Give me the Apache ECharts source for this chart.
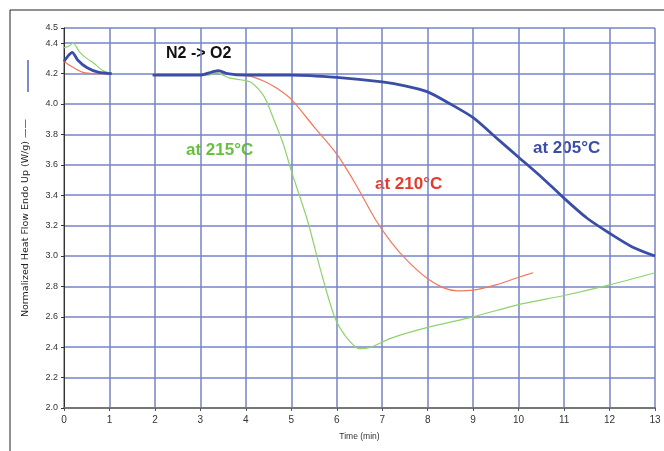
<!DOCTYPE html>
<html>
<head>
<meta charset="utf-8">
<script src="https://cdn.jsdelivr.net/npm/echarts@6/dist/echarts.min.js"></script>
<style>
  html, body { margin: 0; padding: 0; background: #fff; }
  #chart { width: 664px; height: 451px; }
</style>
</head>
<body>
<div id="chart"></div>
<script>
// time (min), heat flow (W/g); '-' = gap in the trace
const curve205 = [
  [0, 4.28], [0.1, 4.32], [0.18, 4.34], [0.3, 4.29], [0.5, 4.24], [0.75, 4.21], [1.05, 4.2],
  [1.5, '-'],
  [1.95, 4.19], [3.0, 4.19], [3.25, 4.21], [3.4, 4.22], [3.6, 4.2], [4.0, 4.19], [5.0, 4.19],
  [6.0, 4.175], [7.0, 4.145], [7.5, 4.12], [8.0, 4.08], [8.5, 4.0], [9.0, 3.91], [9.5, 3.78],
  [10.0, 3.65], [10.5, 3.52], [11.0, 3.38], [11.5, 3.25], [12.0, 3.15], [12.5, 3.06], [13.0, 3.0]
];
const curve210 = [
  [0, 4.28], [0.15, 4.25], [0.4, 4.21], [0.7, 4.2], [1.05, 4.2],
  [1.5, '-'],
  [1.95, 4.19], [3.0, 4.19], [3.25, 4.21], [3.4, 4.22], [3.6, 4.2], [4.0, 4.19],
  [4.4, 4.15], [4.7, 4.1], [5.0, 4.03], [5.5, 3.85], [6.0, 3.67], [6.4, 3.48], [6.85, 3.24],
  [7.2, 3.09], [7.55, 2.97], [8.0, 2.85], [8.35, 2.79], [8.65, 2.77], [9.0, 2.775],
  [9.5, 2.81], [10.0, 2.86], [10.32, 2.89]
];
const curve215 = [
  [0, 4.37], [0.1, 4.38], [0.2, 4.4], [0.35, 4.34], [0.5, 4.3], [0.65, 4.27], [0.85, 4.22], [1.05, 4.2],
  [1.5, '-'],
  [2.85, 4.19], [3.2, 4.19], [3.35, 4.21], [3.5, 4.19], [3.65, 4.17], [4.1, 4.145],
  [4.4, 4.05], [4.6, 3.91], [4.82, 3.74], [5.0, 3.56], [5.35, 3.24], [5.65, 2.9],
  [5.95, 2.6], [6.2, 2.47], [6.5, 2.39], [6.75, 2.4], [7.2, 2.46], [8.0, 2.53],
  [9.0, 2.6], [10.0, 2.68], [11.0, 2.74], [12.0, 2.81], [13.0, 2.89]
];

const xTicks = { min: 0, max: 13, interval: 1 };
const yTicks = { min: 2.0, max: 4.5, interval: 0.2 };

let myChart = echarts.init(document.getElementById("chart"));
myChart.setOption({
  animation: false,
  grid: {
    left: 64,
    right: 9,
    top: 28,
    bottom: 43
  },
  xAxis: {
    type: "value",
    min: xTicks.min,
    max: xTicks.max,
    interval: xTicks.interval,
    name: "Time (min)",
    nameLocation: "middle",
    nameGap: 24,
    nameTextStyle: { fontFamily: "Liberation Sans", fontSize: 8.5, color: "#333" },
    axisLine: { lineStyle: { color: "#777", width: 2 } },
    axisTick: { show: true, length: 3, lineStyle: { color: "#555" } },
    axisLabel: { fontFamily: "Liberation Sans", fontSize: 10, color: "#333", margin: 7 },
    splitLine: { show: true, lineStyle: { color: "#7783c6", width: 1.5 } }
  },
  yAxis: {
    type: "value",
    min: yTicks.min,
    max: yTicks.max,
    interval: yTicks.interval,
    name: "Normalized Heat Flow Endo Up (W/g) ——",
    nameLocation: "middle",
    nameGap: 33,
    nameTextStyle: { fontFamily: "DejaVu Sans", fontSize: 9.5, color: "#222" },
    axisLine: { show: true, lineStyle: { color: "#333", width: 1 } },
    axisTick: { show: true, length: 3, lineStyle: { color: "#333" } },
    axisLabel: {
      fontFamily: "Liberation Sans", fontSize: 9, color: "#333", margin: 6,
      formatter: v => v.toFixed(1)
    },
    splitLine: { show: true, lineStyle: { color: "#7783c6", width: 1.5 } }
  },
  series: [
    {
      name: "at 215°C",
      type: "line",
      showSymbol: false,
      smooth: 0.25,
      connectNulls: false,
      lineStyle: { color: "#8fd26e", width: 1.2 },
      data: curve215,
      z: 3
    },
    {
      name: "at 210°C",
      type: "line",
      showSymbol: false,
      smooth: 0.25,
      connectNulls: false,
      lineStyle: { color: "#f3785a", width: 1.2 },
      data: curve210,
      z: 4
    },
    {
      name: "at 205°C",
      type: "line",
      showSymbol: false,
      smooth: 0.25,
      connectNulls: false,
      lineStyle: { color: "#3b4ea6", width: 2.8 },
      data: curve205,
      z: 5
    }
  ],
  graphic: [
    // outer frame (top and left edges only)
    { type: "line", shape: { x1: 10, y1: 10, x2: 664, y2: 10 }, style: { stroke: "#222", lineWidth: 1 } },
    { type: "line", shape: { x1: 10, y1: 10, x2: 10, y2: 451 }, style: { stroke: "#222", lineWidth: 1 } },
    // blue legend stroke beside the axis name
    { type: "line", shape: { x1: 28, y1: 60, x2: 28, y2: 92 }, style: { stroke: "#5566bb", lineWidth: 1.5 } },
    { type: "text", left: 166, top: 46, style: { text: "N2 -> O2", font: "bold 16px Liberation Sans", fill: "#111" } },
    { type: "text", left: 186, top: 142, style: { text: "at 215°C", font: "bold 17px Liberation Sans", fill: "#66c23c" } },
    { type: "text", left: 375, top: 176, style: { text: "at 210°C", font: "bold 17px Liberation Sans", fill: "#e8392b" } },
    { type: "text", left: 533, top: 140, style: { text: "at 205°C", font: "bold 17px Liberation Sans", fill: "#3b4ea6" } }
  ]
});
myChart.resize();
</script>
</body>
</html>
